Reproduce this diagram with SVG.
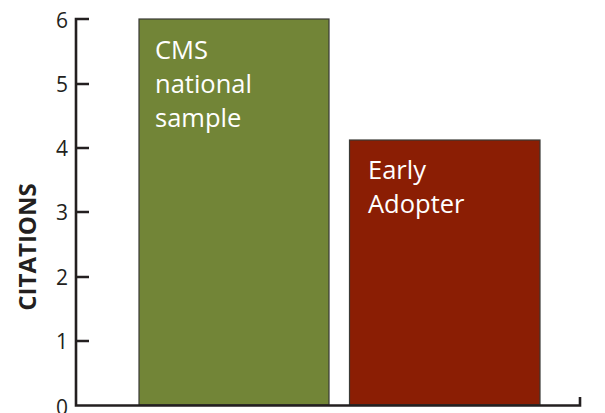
<svg xmlns="http://www.w3.org/2000/svg" width="605" height="413" viewBox="0 0 605 413">
<style>
.ax{stroke:#231f20;stroke-width:2.6;fill:none}
.tl{font-family:"Open Sans","Liberation Sans",sans-serif;font-size:21px;fill:#231f20;text-anchor:end}
.bl{font-family:"Open Sans","Liberation Sans",sans-serif;font-size:25.5px;fill:#ffffff}
.bar{stroke:#3a3a36;stroke-width:1.2}
</style>
<rect width="605" height="413" fill="#ffffff"/>
<g id="cms">
<rect class="bar" x="139" y="19" width="190" height="386" fill="#728537"/>
<text class="bl" x="155" y="59">CMS</text>
<text class="bl" x="155" y="93">national</text>
<text class="bl" x="155" y="127">sample</text>
</g>
<g id="early">
<rect class="bar" x="349.5" y="140" width="190.5" height="265" fill="#8b1e04"/>
<text class="bl" x="368" y="179">Early</text>
<text class="bl" x="368" y="213">Adopter</text>
</g>
<g id="axes">
<path class="ax" d="M89 19H76V405.5H580V397"/>
<path class="ax" d="M76 84H89M76 148H89M76 212H89M76 277H89M76 341H89"/>
<text class="tl" x="68" y="28">6</text>
<text class="tl" x="68" y="92">5</text>
<text class="tl" x="68" y="156">4</text>
<text class="tl" x="68" y="220">3</text>
<text class="tl" x="68" y="285">2</text>
<text class="tl" x="68" y="349">1</text>
<text class="tl" x="68" y="415">0</text>
<text x="0" y="0" transform="translate(36 247) rotate(-90)" text-anchor="middle" font-family="'Open Sans','Liberation Sans',sans-serif" font-weight="bold" font-size="24" fill="#231f20">CITATIONS</text>
</g>
</svg>
